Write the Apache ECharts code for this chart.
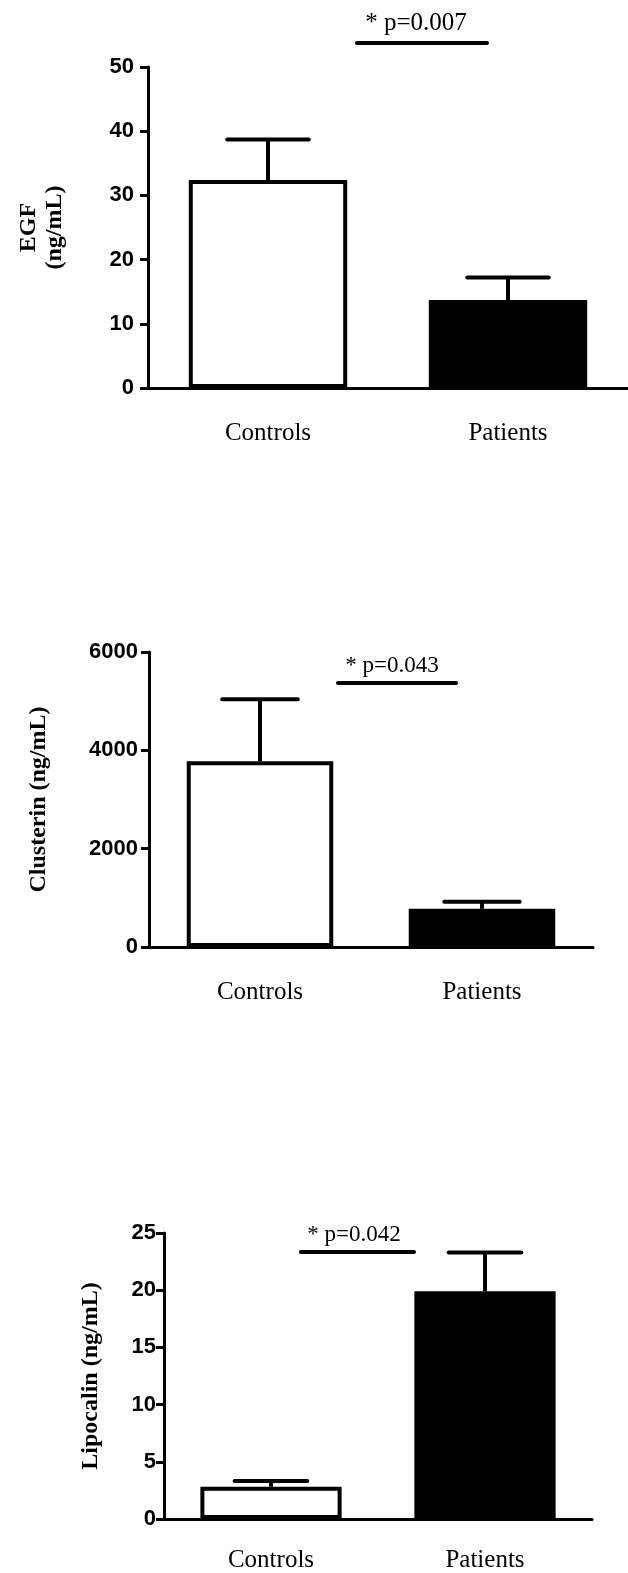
<!DOCTYPE html>
<html lang="en">
<head>
  <meta charset="UTF-8">
  <title>EGF / Clusterin / Lipocalin</title>
  <style>
    html, body { margin: 0; padding: 0; background: #fff; }
  </style>
</head>
<body>
<div id="main" style="width: 628px;height: 1573px"></div>
<script type="text/javascript" src="https://cdn.jsdelivr.net/npm/echarts@6/dist/echarts.min.js"></script>

<script>
// groups
var categories = ['Controls', 'Patients'];

// means and upper end of the error bar (mean + SEM)
var egfMean = [32.4, 13.7];
var egfUpper = [38.7, 17.2];
var clusterinMean = [3780, 776];
var clusterinUpper = [5040, 918];
var lipocalinMean = [2.82, 19.9];
var lipocalinUpper = [3.32, 23.3];

// y axis ranges
var yMax = [50, 6000, 25];
var yStep = [10, 2000, 5];
var yNames = ['EGF\n(ng/mL)', 'Clusterin (ng/mL)', 'Lipocalin (ng/mL)'];
var pLabels = ['* p=0.007', '* p=0.043', '* p=0.042'];

var serif = '"Liberation Serif", "Times New Roman", serif';
var sans = '"Liberation Sans", Arial, sans-serif';

function errorBar(params, api) {
  var x = api.value(0);
  var base = api.coord([x, api.value(1)]);
  var top = api.coord([x, api.value(2)]);
  var half = api.size([1, 0])[0] * 0.17;
  return {
    type: 'group',
    children: [{
      type: 'line',
      shape: { x1: base[0], y1: base[1], x2: top[0], y2: top[1] },
      style: { stroke: '#000', lineWidth: 4 }
    }, {
      type: 'line',
      shape: { x1: top[0] - half, y1: top[1], x2: top[0] + half, y2: top[1] },
      style: { stroke: '#000', lineWidth: 4, lineCap: 'round' }
    }]
  };
}

function barData(means) {
  return means.map(function (v, i) {
    return {
      value: v,
      itemStyle: { color: i === 0 ? '#fff' : '#000', borderColor: '#000', borderWidth: 4 }
    };
  });
}

function errData(means, uppers) {
  return means.map(function (v, i) { return [i, v, uppers[i]]; });
}

var grids = [
  { left: 148, top: 67, width: 484, height: 321 },
  { left: 149, top: 652, width: 444, height: 295 },
  { left: 164, top: 1233, width: 428, height: 286 }
];
var nameGaps = [80, 97, 60];
var labelMargins = [14, 11, 8];
var catMargins = [33, 33, 29];

var xAxes = [], yAxes = [];
for (var i = 0; i < 3; i++) {
  xAxes.push({
    type: 'category',
    gridIndex: i,
    data: categories,
    axisLine: { lineStyle: { color: '#000', width: 3 } },
    axisTick: { alignWithLabel: true, length: 9, lineStyle: { color: '#000', width: 3 } },
    axisLabel: { color: '#000', fontFamily: serif, fontSize: 25, margin: catMargins[i] }
  });
  yAxes.push({
    type: 'value',
    gridIndex: i,
    min: 0,
    max: yMax[i],
    interval: yStep[i],
    name: yNames[i],
    nameLocation: 'middle',
    nameGap: nameGaps[i],
    nameTextStyle: { color: '#000', fontFamily: serif, fontWeight: 'bold', fontSize: 24, lineHeight: 26 },
    splitLine: { show: false },
    axisLine: { show: true, lineStyle: { color: '#000', width: 3 } },
    axisTick: { show: true, length: 8, lineStyle: { color: '#000', width: 3 } },
    axisLabel: {
      color: '#000', fontFamily: sans, fontWeight: 'bold', fontSize: 22, margin: labelMargins[i],
      formatter: function (v) { return String(v); }
    }
  });
}

var means = [egfMean, clusterinMean, lipocalinMean];
var uppers = [egfUpper, clusterinUpper, lipocalinUpper];
var series = [];
for (var j = 0; j < 3; j++) {
  series.push({
    type: 'bar',
    xAxisIndex: j,
    yAxisIndex: j,
    barWidth: '66%',
    data: barData(means[j]),
    animation: false
  });
  series.push({
    type: 'custom',
    xAxisIndex: j,
    yAxisIndex: j,
    renderItem: errorBar,
    encode: { x: 0, y: [1, 2] },
    data: errData(means[j], uppers[j]),
    z: 5,
    animation: false
  });
}

// significance brackets above each panel
function sig(text, cx, ty, x1, x2, ly, size) {
  return [{
    type: 'text',
    x: cx,
    y: ty,
    style: { text: text, font: size + 'px ' + serif, fill: '#000', align: 'center', verticalAlign: 'middle' }
  }, {
    type: 'line',
    shape: { x1: x1, y1: ly, x2: x2, y2: ly },
    style: { stroke: '#000', lineWidth: 4, lineCap: 'round' }
  }];
}

var graphics = []
  .concat(sig(pLabels[0], 416, 23, 357, 487, 43, 25))
  .concat(sig(pLabels[1], 392, 666, 338, 456, 683, 23))
  .concat(sig(pLabels[2], 354, 1235, 301, 414, 1252, 23));

var option = {
  backgroundColor: '#fff',
  animation: false,
  grid: grids,
  xAxis: xAxes,
  yAxis: yAxes,
  series: series,
  graphic: graphics
};

var myChart = echarts.init(document.getElementById('main'));
myChart.setOption(option);
</script>
</body>
</html>
